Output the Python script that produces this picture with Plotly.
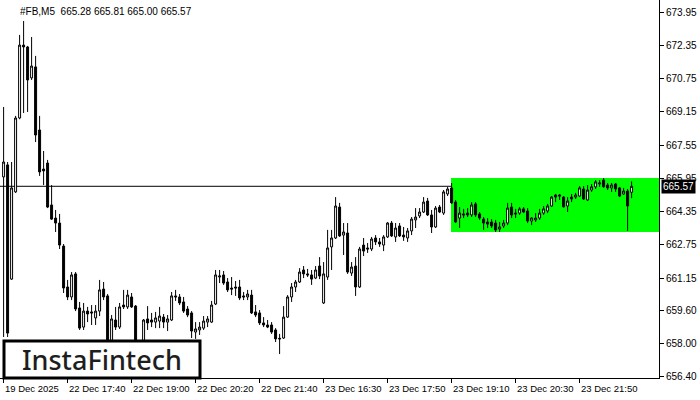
import plotly.graph_objects as go

# OHLC of the M5 bars, left to right
opens = [666.02, 666.60, 661.10, 665.30, 668.86, 672.37, 672.28, 670.79, 671.32, 668.28,
         666.40, 666.69, 664.67, 664.04, 663.80, 662.69, 660.72, 660.24, 661.35, 659.71,
         658.79, 659.56, 659.52, 659.23, 659.56, 660.62, 660.29, 657.93, 659.13, 658.79,
         659.85, 659.76, 660.24, 659.80, 657.93, 657.78, 659.18, 659.13, 659.03, 659.08,
         659.27, 659.03, 659.13, 660.29, 660.24, 660.00, 659.66, 659.47, 658.55, 658.65,
         658.74, 659.03, 659.03, 659.90, 661.20, 661.30, 660.96, 660.67, 660.72, 660.72,
         660.29, 660.24, 660.33, 659.52, 659.47, 658.99, 658.89, 658.89, 658.65, 658.25,
         658.26, 659.27, 660.24, 660.72, 660.96, 661.54, 661.35, 661.30, 661.15, 661.73,
         659.95, 661.20, 662.65, 663.08, 664.57, 663.22, 663.32, 661.39, 661.73, 660.72,
         662.74, 662.60, 662.55, 663.08, 662.89, 662.74, 663.13, 663.80, 663.13, 663.66,
         663.22, 663.08, 663.42, 663.95, 664.14, 664.33, 664.86, 664.19, 663.61, 664.57,
         664.28, 665.20, 665.49, 664.81, 664.04, 664.24, 664.28, 664.19, 664.72, 664.24,
         663.99, 663.85, 663.85, 663.80, 663.51, 663.66, 663.80, 664.57, 664.28, 664.28,
         664.48, 664.38, 663.90, 663.95, 664.04, 664.28, 664.38, 664.62, 665.15, 665.15,
         665.05, 664.62, 665.05, 665.05, 665.10, 665.44, 664.91, 665.39, 665.54, 665.68,
         665.87, 665.63, 665.49, 665.68, 665.49, 665.20, 665.34, 665.28]
highs = [669.39, 666.74, 666.74, 668.96, 672.86, 673.53, 672.33, 672.76, 671.85, 668.96,
         667.27, 666.84, 665.63, 664.43, 664.24, 662.79, 661.06, 661.44, 661.44, 660.00,
         659.95, 659.76, 659.85, 659.85, 661.06, 660.96, 660.38, 659.37, 659.76, 659.95,
         660.58, 660.58, 660.43, 659.85, 658.07, 659.18, 659.80, 659.47, 659.52, 659.76,
         659.42, 659.37, 660.48, 660.58, 660.38, 660.24, 659.80, 659.56, 659.03, 659.03,
         659.32, 659.32, 660.05, 661.54, 661.54, 661.49, 661.15, 661.20, 661.01, 661.06,
         660.48, 660.58, 660.58, 659.85, 659.61, 659.27, 659.13, 659.03, 658.74, 658.46,
         659.80, 660.33, 660.91, 661.06, 661.63, 661.73, 661.59, 661.54, 661.73, 662.16,
         661.92, 663.47, 663.47, 665.05, 664.77, 663.80, 663.80, 661.92, 662.16, 662.65,
         663.08, 662.84, 663.13, 663.22, 663.08, 663.22, 663.85, 663.90, 663.80, 663.80,
         663.61, 663.56, 664.09, 664.52, 664.52, 665.05, 665.01, 664.43, 664.62, 664.67,
         665.39, 665.54, 665.73, 664.91, 664.57, 664.48, 664.52, 664.81, 664.81, 664.33,
         664.09, 664.04, 663.99, 663.95, 663.85, 663.95, 664.77, 664.77, 664.48, 664.57,
         664.57, 664.52, 664.09, 664.28, 664.48, 664.62, 664.72, 665.10, 665.20, 665.20,
         665.10, 665.05, 665.20, 665.25, 665.58, 665.58, 665.63, 665.68, 665.87, 665.87,
         665.97, 665.73, 665.73, 665.73, 665.54, 665.49, 665.44, 665.81]
lows = [658.31, 658.31, 661.06, 665.25, 668.80, 669.10, 669.15, 670.69, 667.70, 666.07,
        665.63, 664.52, 663.95, 663.37, 662.55, 660.43, 660.09, 660.09, 659.56, 658.65,
        658.65, 659.03, 658.89, 658.89, 659.32, 660.09, 657.69, 657.69, 658.65, 658.70,
        659.66, 659.66, 659.71, 657.59, 657.49, 657.69, 658.65, 658.79, 658.74, 658.74,
        658.74, 658.60, 659.08, 660.05, 659.85, 659.47, 659.27, 658.26, 658.22, 658.41,
        658.65, 658.79, 658.99, 659.85, 660.91, 660.82, 660.48, 660.33, 660.29, 660.09,
        660.09, 660.09, 659.42, 659.27, 658.89, 658.79, 658.74, 658.46, 658.07, 657.49,
        658.22, 659.23, 660.00, 660.48, 660.91, 661.15, 661.20, 660.82, 661.10, 661.10,
        659.90, 661.06, 661.54, 663.03, 663.13, 662.26, 661.35, 661.25, 660.29, 660.67,
        662.21, 662.36, 662.45, 662.74, 662.65, 662.45, 663.08, 663.13, 662.89, 663.13,
        662.94, 662.89, 663.22, 663.56, 664.04, 664.28, 664.14, 663.32, 663.56, 664.28,
        664.19, 665.10, 664.72, 663.80, 663.56, 664.04, 664.09, 664.09, 664.09, 663.95,
        663.47, 663.56, 663.56, 663.37, 663.37, 663.56, 663.70, 664.04, 664.04, 664.19,
        664.28, 663.80, 663.70, 663.85, 663.95, 664.19, 664.28, 664.57, 664.81, 664.91,
        664.55, 664.33, 664.81, 664.96, 665.05, 664.91, 664.86, 665.30, 665.44, 665.54,
        665.50, 665.39, 665.30, 665.30, 665.05, 665.15, 663.42, 665.00]
closes = [666.74, 658.50, 665.49, 668.86, 672.37, 672.28, 670.69, 671.36, 668.04, 666.26,
          666.31, 664.57, 663.99, 663.80, 662.74, 660.67, 660.24, 661.30, 659.66, 658.74,
          659.56, 659.42, 659.47, 659.56, 660.58, 660.24, 657.93, 659.18, 658.79, 659.76,
          659.76, 660.33, 659.76, 657.88, 657.69, 659.13, 658.99, 659.03, 659.23, 659.32,
          659.03, 659.18, 660.29, 660.24, 659.95, 659.56, 659.37, 658.60, 658.70, 658.79,
          659.08, 659.18, 659.85, 661.30, 661.25, 660.91, 660.58, 660.62, 660.67, 660.19,
          660.24, 660.38, 659.47, 659.37, 658.99, 658.89, 658.79, 658.55, 658.22, 658.22,
          659.27, 660.24, 660.72, 660.96, 661.44, 661.35, 661.30, 661.10, 661.54, 661.25,
          661.35, 662.60, 663.08, 664.62, 663.18, 663.37, 661.44, 661.68, 660.72, 662.55,
          662.45, 662.55, 663.03, 662.89, 662.79, 663.13, 663.80, 663.18, 663.56, 663.18,
          663.13, 663.42, 663.99, 664.09, 664.33, 664.81, 664.19, 663.61, 664.52, 664.33,
          665.30, 665.44, 664.77, 663.85, 664.28, 664.19, 664.19, 664.67, 664.19, 664.04,
          663.80, 663.75, 663.66, 663.47, 663.61, 663.80, 664.52, 664.19, 664.24, 664.48,
          664.33, 663.90, 664.04, 664.04, 664.28, 664.48, 664.62, 665.05, 665.05, 665.10,
          664.58, 664.86, 664.96, 665.15, 665.49, 664.96, 665.39, 665.54, 665.78, 665.73,
          665.55, 665.49, 665.63, 665.44, 665.10, 665.34, 664.62, 665.57]

time_labels = ["19 Dec 2025", "22 Dec 17:40", "22 Dec 19:00", "22 Dec 20:20", "22 Dec 21:40",
               "23 Dec 16:30", "23 Dec 17:50", "23 Dec 19:10", "23 Dec 20:30", "23 Dec 21:50"]
price_ticks = [673.95, 672.35, 670.75, 669.15, 667.55, 665.95, 664.35,
               662.75, 661.15, 659.60, 658.00, 656.40]
zone_start = 112  # first bar of the flat (rectangle) pattern

bars = list(range(len(closes)))
tick_pos = [i * 16 for i in range(len(time_labels))]
last = closes[-1]
zone_hi = max(highs[zone_start:])
zone_lo = min(lows[zone_start:])

fig = go.Figure()

fig.add_trace(go.Candlestick(
    x=bars, open=opens, high=highs, low=lows, close=closes,
    increasing=dict(line=dict(color="black", width=1), fillcolor="white"),
    decreasing=dict(line=dict(color="black", width=1), fillcolor="black"),
    whiskerwidth=0, hoverinfo="skip", showlegend=False))

# green pattern zone
fig.add_shape(type="rect", layer="below", xref="x", yref="y",
              x0=zone_start - 0.15, x1=200, y0=zone_lo, y1=zone_hi,
              fillcolor="#00ff00", line_width=0)
# bid line
fig.add_shape(type="line", layer="below", xref="paper", yref="y",
              x0=0, x1=1, y0=last, y1=last, line=dict(color="black", width=1))

# logo box
fig.add_shape(type="rect", layer="above", xref="paper", yref="paper",
              x0=4 / 659, x1=200 / 659, y0=0.0, y1=37 / 378,
              fillcolor="white", line=dict(color="black", width=3))
fig.add_annotation(xref="paper", yref="paper", x=102 / 659, y=19 / 378,
                   xanchor="center", yanchor="middle",
                   text="InstaFintech", showarrow=False,
                   font=dict(family="Noto Sans", size=27, color="#1e1e1e", weight=500))

# header
fig.add_annotation(xref="paper", yref="paper", x=18 / 659, y=1, yshift=-4,
                   xanchor="left", yanchor="top", showarrow=False,
                   text="#FB,M5  %.2f %.2f %.2f %.2f" % (opens[-1], highs[-1], lows[-1], closes[-1]),
                   font=dict(family="Liberation Sans", size=10, color="black"))

# current price tag
fig.add_annotation(xref="paper", yref="y", x=1, y=last, xanchor="left", xshift=2,
                   yanchor="middle",
                   text="%.2f" % last, showarrow=False, bgcolor="black", borderpad=1,
                   font=dict(family="Liberation Sans", size=10, color="white"))

for pos, lab in zip(tick_pos, time_labels):
    fig.add_annotation(xref="x", yref="paper", x=pos, y=0, xanchor="left", yanchor="top",
                       xshift=-1, yshift=-3, text=lab, showarrow=False,
                       font=dict(family="Liberation Sans", size=9.5, color="black"))

fig.update_layout(
    width=700, height=400,
    margin=dict(l=0, r=41, t=0, b=22),
    paper_bgcolor="white", plot_bgcolor="white",
    hovermode=False,
    xaxis=dict(range=[-0.9, 163.85], showgrid=False, zeroline=False,
               showline=True, linecolor="black", linewidth=1,
               ticks="outside", ticklen=4, tickcolor="black",
               tickvals=tick_pos, showticklabels=False,
               rangeslider=dict(visible=False)),
    yaxis=dict(side="right", range=[656.337, 674.542], showgrid=False, zeroline=False,
               showline=True, linecolor="black", linewidth=1,
               ticks="outside", ticklen=4, tickcolor="black",
               tickvals=price_ticks, ticktext=["%.2f" % v for v in price_ticks],
               tickfont=dict(family="Liberation Sans", size=10, color="black")),
)

# drop the browser's default page margin so the chart sits at the top-left corner
fig.write_html("out.html", config={"displayModeBar": False},
               post_script="document.body.style.margin='0';")
